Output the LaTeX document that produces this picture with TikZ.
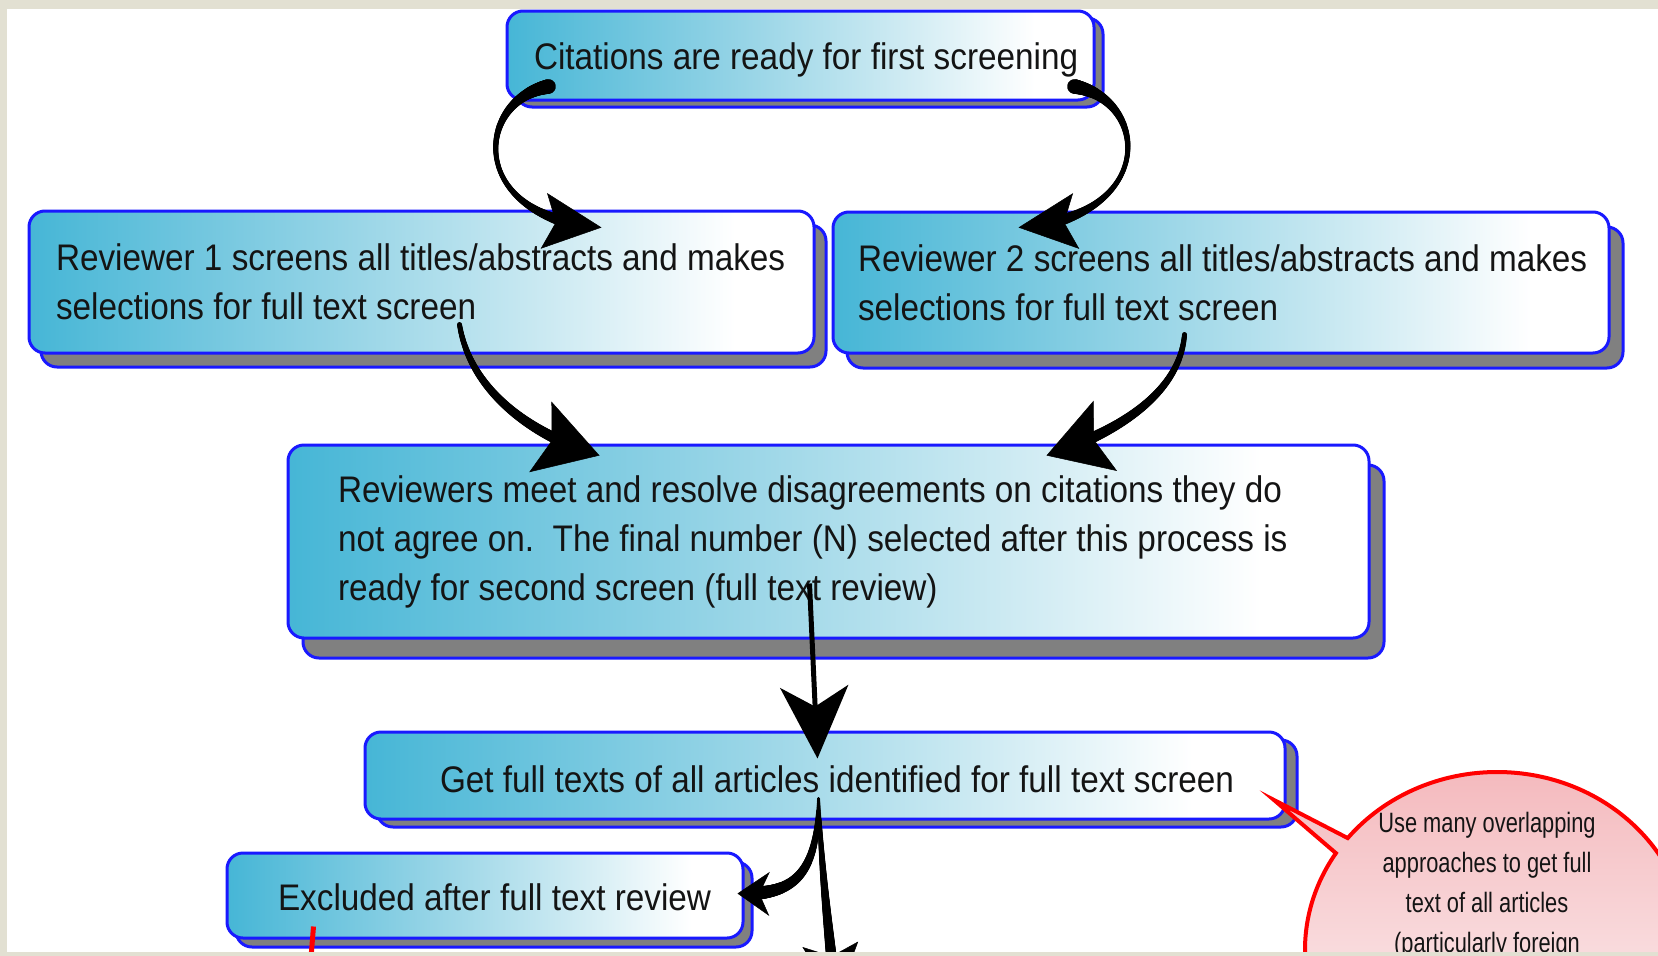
\documentclass[tikz,border=0pt]{standalone}
\usepackage{fontspec}
\setmainfont{Liberation Sans}[FakeStretch=0.9]
\newfontfamily\notefont{Liberation Sans}[FakeStretch=0.78]
\usetikzlibrary{arrows.meta,shapes.callouts,decorations.markings}
\definecolor{bA}{RGB}{70,182,214}
\definecolor{bB}{RGB}{150,212,230}
\definecolor{bC}{RGB}{212,237,244}
\definecolor{bblue}{RGB}{25,25,255}
\definecolor{shgray}{RGB}{128,128,128}
\definecolor{beige}{RGB}{226,224,210}
\definecolor{pinkA}{RGB}{244,186,190}
\definecolor{txt}{RGB}{20,20,20}
\pgfdeclarehorizontalshading{boxgrad}{100bp}{color(0bp)=(bA); color(25bp)=(bA); color(45bp)=(bB); color(60bp)=(bC); color(70bp)=(white); color(100bp)=(white)}
\begin{document}
\begin{tikzpicture}[x=1pt,y=-1pt,
  box/.style 2 args={draw=bblue, line width=3pt, rounded corners=16pt, shade, shading=boxgrad,
    inner ysep=0pt, align=flush left, font=\fontsize{37pt}{49pt}\selectfont, text=txt,
    preaction={draw=bblue, line width=3pt, fill=shgray, transform canvas={xshift=#1, yshift=-#2}}},
  taper/.style 2 args={decoration={markings,
      mark=between positions 0 and #2 step 0.8pt with {
      \pgfmathsetmacro\tp{\pgfkeysvalueof{/pgf/decoration/mark info/distance from start}/\pgfdecoratedpathlength}%
      \pgfmathsetmacro\tapr{#1}%
      \fill[black] (0,0) circle[radius=\tapr pt];}}, postaction={decorate}},
  headtop/.style={draw=black, line width=0.5pt, -{Stealth[length=58pt,width=56pt,inset=12pt]}},
  headmid/.style={draw=black, line width=0.5pt, -{Stealth[length=62pt,width=74pt,inset=12pt]}},
  headsmall/.style={draw=black, line width=0.5pt, -{Stealth[length=32pt,width=44pt,inset=10pt]}},
  arrdown/.style={draw=black, line width=5pt, -{Stealth[length=72pt,width=68pt,inset=20pt]}},
  note/.style={ellipse callout, draw=red, line width=4pt, top color=pinkA, bottom color=white,
    minimum width=384pt, minimum height=356pt, inner sep=0pt},
  notetxt/.style={font=\notefont\fontsize{28pt}{40pt}\selectfont, text=txt, align=center, inner sep=0pt}
]
\useasboundingbox (0,0) rectangle (1658,956);
\fill[white] (0,0) rectangle (1658,956);

% boxes
\node[box={9pt}{7pt}, minimum width=587pt, minimum height=89pt, inner xsep=27pt, text width=533pt,
  text height=27pt, text depth=0pt] (top) at (800.5,55.5)
  {\mbox{Citations are ready for first screening}};
\node[box={12pt}{14pt}, minimum width=785pt, minimum height=142pt, inner xsep=27pt, text width=731pt] (r1) at (421.5,282)
  {\mbox{Reviewer 1 screens all titles/abstracts and makes}\\\mbox{selections for full text screen}};
\node[box={14pt}{15pt}, minimum width=776pt, minimum height=141pt, inner xsep=25pt, text width=726pt] (r2) at (1221,282.5)
  {\mbox{Reviewer 2 screens all titles/abstracts and makes}\\\mbox{selections for full text screen}};
\node[box={15pt}{20pt}, minimum width=1081pt, minimum height=193pt, inner xsep=50pt, text width=981pt] (mid) at (828.5,541.5)
  {\mbox{Reviewers meet and resolve disagreements on citations they do}\\\mbox{not agree on.\ \ The final number (N) selected after this process is}\\\mbox{ready for second screen (full text review)}};
\node[box={12pt}{8pt}, minimum width=920pt, minimum height=87pt, inner xsep=75pt, text width=770pt,
  text height=33pt, text depth=0pt] (get) at (825,775.5)
  {\mbox{Get full texts of all articles identified for full text screen}};
\node[box={9pt}{9pt}, minimum width=516pt, minimum height=85pt, inner xsep=51pt, text width=414pt,
  text height=29pt, text depth=0pt] (excl) at (485,895.5)
  {\mbox{Excluded after full text review}};

% arrow end points (on the target boxes)
\coordinate (t1) at ([shift={(574,18)}]r1.north west);
\coordinate (t2) at ([shift={(187,17)}]r2.north west);
\coordinate (t3) at ([shift={(313,12)}]mid.north west);
\coordinate (t4) at ([shift={(760,12)}]mid.north west);
\coordinate (t6) at ([shift={(-7,42)}]excl.north east);
\coordinate (down) at (836,1002);

% connectors
\path[taper={2.5+24*(\tp-0.45)^2}{0.8}] ([shift={(43,-15)}]top.south west)
  .. controls (475,100) and (466,218) .. coordinate[pos=0.95] (p1) (t1);
\draw[headtop] (p1) -- (t1);
\path[taper={2.5+24*(\tp-0.45)^2}{0.8}] ([shift={(-21,-15)}]top.south east)
  .. controls (1150,100) and (1157,218) .. coordinate[pos=0.95] (p2) (t2);
\draw[headtop] (p2) -- (t2);
\path[taper={2.5+4*\tp}{0.8}] ([shift={(432,-30)}]r1.south west)
  .. controls (470,390) and (530,435) .. coordinate[pos=0.95] (p3) (t3);
\draw[headmid] (p3) -- (t3);
\path[taper={2.5+4*\tp}{0.8}] ([shift={(353,-20)}]r2.south west)
  .. controls (1180,392) and (1120,432) .. coordinate[pos=0.95] (p4) (t4);
\draw[headmid] (p4) -- (t4);
\draw[arrdown] ([shift={(523,-56)}]mid.south west) -- ([shift={(454,28)}]get.north west);
\path[taper={1.5+5*\tp}{0.85}] ([shift={(455,-22)}]get.south west)
  .. controls (822,880) and (830,940) .. coordinate[pos=0.95] (p5) (down);
\draw[headtop] (p5) -- (down);
\path[taper={1.5+6*\tp}{0.85}] ([shift={(455,-22)}]get.south west)
  .. controls (818,880) and (790,895) .. coordinate[pos=0.95] (p6) (t6);
\draw[headsmall] (p6) -- (t6);

% red line
\coordinate (redend) at (310,970);
\draw[red, line width=5pt] ([shift={(88,-13)}]excl.south west) -- (redend);

% callout
\node[note, callout absolute pointer={(1274,800)}, callout pointer arc=6] (callout) at (1497,950) {};
\node[notetxt, anchor=north] (calltext) at (1487,812)
  {Use many overlapping\\approaches to get full\\text of all articles\\(particularly foreign};

% frame
\fill[beige] (0,0) rectangle (1658,9);
\fill[beige] (0,0) rectangle (7,956);
\fill[beige] (0,952) rectangle (1658,956);
\end{tikzpicture}
\end{document}
